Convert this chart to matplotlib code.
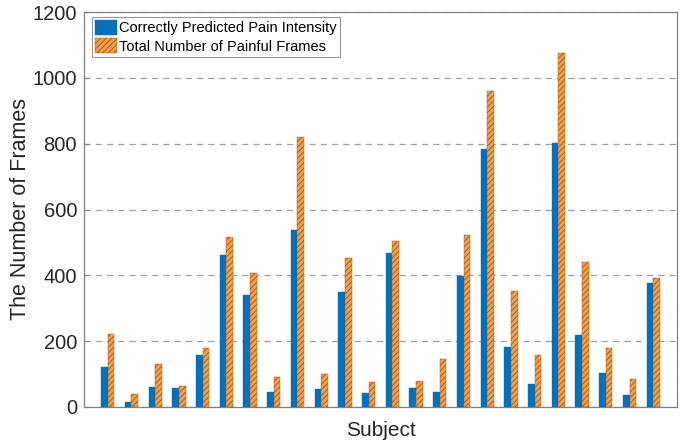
import matplotlib
matplotlib.use("Agg")
import matplotlib.pyplot as plt
import numpy as np

plt.rcParams['font.family'] = ['Liberation Sans', 'DejaVu Sans']
plt.rcParams['hatch.linewidth'] = 0.6

subjects = list(range(1, 25))
correct = [121, 15, 61, 58, 157, 463, 340, 45, 539, 55, 349, 42,
           468, 59, 45, 399, 784, 183, 71, 802, 218, 103, 37, 376]
total = [221, 39, 132, 64, 180, 516, 407, 92, 820, 99, 454, 75,
         504, 80, 146, 523, 959, 353, 159, 1076, 441, 179, 84, 393]
yticks = [0, 200, 400, 600, 800, 1000, 1200]

fig = plt.figure(figsize=(6.91, 4.41), dpi=100)
ax = fig.add_axes([84/691, 34/441, 593/691, 395/441])

x = np.array(subjects, dtype=float)
w = 0.28
ax.bar(x - w/2, correct, width=w, color='#0072BD', edgecolor='#0072BD',
       linewidth=0.3, label='Correctly Predicted Pain Intensity', zorder=3)
ax.bar(x + w/2, total, width=w, color='#F2A04A', edgecolor='#A0521A',
       linewidth=0.3, hatch='//////', label='Total Number of Painful Frames', zorder=3)

ax.set_xlim(0, 25)
ax.set_ylim(0, 1200)
ax.set_xticks([])
ax.set_yticks(yticks)
ax.set_yticklabels([str(v) for v in yticks], fontsize=14.5, color='#262626')
ax.tick_params(axis='y', direction='in', length=3, color='#808080', pad=5)
ax.yaxis.grid(True, linestyle=(0, (5, 4)), color='#A0A0A0', linewidth=0.9, zorder=0)
ax.set_axisbelow(True)
for s in ax.spines.values():
    s.set_color('#808080')
    s.set_linewidth(0.9)

ax.set_xlabel('Subject', fontsize=15, color='#262626', labelpad=10)
ax.set_ylabel('The Number of Frames', fontsize=15.5, color='#262626')
ax.yaxis.set_label_coords((31 - 84) / 593, 0.5)

leg = ax.legend(loc='upper left', bbox_to_anchor=(8/593, 1 - 5/395), fontsize=10.5,
                frameon=True, fancybox=False, edgecolor='#808080',
                borderpad=0.2, handlelength=1.5, handleheight=1.2,
                handletextpad=0.15, labelspacing=0.2, borderaxespad=0)
leg.get_frame().set_linewidth(0.8)

fig.savefig('out.png', dpi=100)
